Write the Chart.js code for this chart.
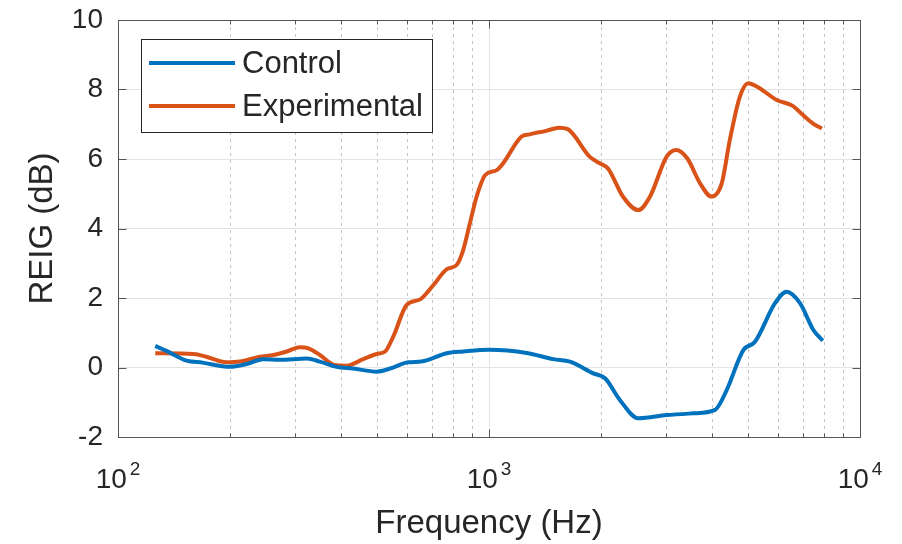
<!DOCTYPE html>
<html>
<head>
<meta charset="utf-8">
<script src="https://cdn.jsdelivr.net/npm/chart.js@4.4.0/dist/chart.umd.min.js"></script>
<style>
  html, body { margin: 0; padding: 0; background: #fff; }
  #wrap { width: 902px; height: 544px; }
</style>
</head>
<body>
<div id="wrap"><canvas id="chart" width="902" height="544"></canvas></div>
<script>
// frecuencias (Hz) y valores (dB)
const controlFreq = [126, 135, 153, 169, 200, 222, 246, 273, 323, 350, 388, 430, 498, 541, 606, 657, 770, 852,
  1000, 1264, 1490, 1654, 1911, 2055, 2255, 2526, 3012, 3554, 4067, 4372, 4847, 5212, 5901, 6343, 6891, 7487, 7934];
const controlVals = [0.62, 0.48, 0.20, 0.14, 0.02, 0.10, 0.24, 0.22, 0.26, 0.17, 0.02, -0.03, -0.12, -0.03, 0.15, 0.17, 0.41, 0.46,
  0.51, 0.42, 0.24, 0.17, -0.17, -0.31, -0.94, -1.46, -1.37, -1.32, -1.22, -0.65, 0.50, 0.74, 1.85, 2.18, 1.85, 1.08, 0.77];

const expFreq = [126, 160, 173, 196, 213, 241, 262, 285, 309, 326, 350, 384, 413, 458, 498, 525, 552, 600, 652, 708, 770, 818,
  852, 886, 925, 977, 1049, 1092, 1222, 1286, 1426, 1547, 1630, 1867, 1985, 2093, 2296, 2526, 2717, 3012, 3197, 3422,
  3707, 3976, 4240, 4458, 4743, 4998, 5281, 5962, 6588, 7008, 7487, 7893];
const expVals = [0.41, 0.39, 0.31, 0.15, 0.17, 0.31, 0.36, 0.46, 0.58, 0.55, 0.36, 0.07, 0.05, 0.24, 0.39, 0.46, 0.89, 1.80, 1.96, 2.37, 2.83, 2.95,
  3.38, 4.10, 4.90, 5.54, 5.68, 5.88, 6.64, 6.71, 6.81, 6.90, 6.86, 6.07, 5.88, 5.73, 4.92, 4.53, 4.92, 6.07, 6.26, 6.02,
  5.30, 4.92, 5.30, 6.55, 7.79, 8.18, 8.08, 7.70, 7.53, 7.27, 7.01, 6.88];

const seriesNames = ['Control', 'Experimental'];
const seriesColors = ['#0072BD', '#D95319'];

const xDecades = [100, 1000, 10000];
const xExponents = ['2', '3', '4'];
const xMinorMult = [2, 3, 4, 5, 6, 7, 8, 9];
const yTicks = [-2, 0, 2, 4, 6, 8, 10];

const FONT = '"Liberation Sans", Arial, Helvetica, sans-serif';
const TXT = '#262626';
const AXC = '#555555';

const toPts = (xs, ys) => xs.map((f, i) => ({ x: f, y: ys[i] }));

// grid, marco, ticks hacia adentro, etiquetas 10^n y leyenda
const axesPlugin = {
  id: 'matlabAxes',
  beforeDatasetsDraw(chart) {
    const { ctx, chartArea: a, scales: { x } } = chart;
    ctx.save();
    ctx.lineWidth = 1;
    // lineas menores punteadas
    ctx.strokeStyle = '#c4c4c4';
    ctx.setLineDash([3, 4]);
    xDecades.slice(0, -1).forEach(d => {
      xMinorMult.forEach(m => {
        const px = Math.round(x.getPixelForValue(d * m)) + 0.5;
        ctx.beginPath(); ctx.moveTo(px, a.top); ctx.lineTo(px, a.bottom); ctx.stroke();
      });
    });
    // decadas
    ctx.setLineDash([]);
    ctx.strokeStyle = '#e3e3e3';
    xDecades.forEach(d => {
      const px = Math.round(x.getPixelForValue(d)) + 0.5;
      ctx.beginPath(); ctx.moveTo(px, a.top); ctx.lineTo(px, a.bottom); ctx.stroke();
    });
    ctx.restore();
  },
  afterDatasetsDraw(chart) {
    const { ctx, chartArea: a, scales: { x, y } } = chart;
    ctx.save();
    ctx.strokeStyle = AXC;
    ctx.lineWidth = 1;
    const L = Math.round(a.left) + 0.5, R = Math.round(a.right) + 0.5;
    const T = Math.round(a.top) + 0.5, B = Math.round(a.bottom) + 0.5;
    ctx.strokeRect(L, T, R - L, B - T);
    ctx.beginPath();
    xDecades.forEach(d => {
      const px = Math.round(x.getPixelForValue(d)) + 0.5;
      ctx.moveTo(px, B); ctx.lineTo(px, B - 8);
      ctx.moveTo(px, T); ctx.lineTo(px, T + 8);
    });
    xDecades.slice(0, -1).forEach(d => {
      xMinorMult.forEach(m => {
        const px = Math.round(x.getPixelForValue(d * m)) + 0.5;
        ctx.moveTo(px, B); ctx.lineTo(px, B - 4);
        ctx.moveTo(px, T); ctx.lineTo(px, T + 4);
      });
    });
    yTicks.forEach(v => {
      const py = Math.round(y.getPixelForValue(v)) + 0.5;
      ctx.moveTo(L, py); ctx.lineTo(L + 8, py);
      ctx.moveTo(R, py); ctx.lineTo(R - 8, py);
    });
    ctx.stroke();

    // etiquetas 10^n
    ctx.fillStyle = TXT;
    ctx.textBaseline = 'alphabetic';
    xDecades.forEach((d, i) => {
      const px = x.getPixelForValue(d);
      ctx.font = '28px ' + FONT;
      const wb = ctx.measureText('10').width;
      ctx.font = '19px ' + FONT;
      const we = ctx.measureText(xExponents[i]).width;
      const x0 = px - (wb + 3 + we) / 2;
      ctx.font = '28px ' + FONT;
      ctx.textAlign = 'left';
      ctx.fillText('10', x0, 488);
      ctx.font = '19px ' + FONT;
      ctx.fillText(xExponents[i], x0 + wb + 3, 475);
    });

    // leyenda
    const bx = 141.5, by = 39.5, bw = 291, bh = 93;
    ctx.fillStyle = '#ffffff';
    ctx.fillRect(bx, by, bw, bh);
    ctx.strokeStyle = TXT;
    ctx.lineWidth = 1;
    ctx.strokeRect(bx, by, bw, bh);
    const rows = [63, 106];
    chart.data.datasets.forEach((ds, i) => {
      ctx.strokeStyle = ds.borderColor;
      ctx.lineWidth = 4;
      ctx.beginPath(); ctx.moveTo(149, rows[i]); ctx.lineTo(235, rows[i]); ctx.stroke();
      ctx.fillStyle = TXT;
      ctx.font = '31px ' + FONT;
      ctx.textAlign = 'left';
      ctx.textBaseline = 'middle';
      ctx.fillText(ds.label, 242, rows[i] + 1);
    });
    ctx.restore();
  }
};

new Chart(document.getElementById('chart'), {
  type: 'line',
  data: {
    datasets: [
      { label: seriesNames[0], data: toPts(controlFreq, controlVals), borderColor: seriesColors[0] },
      { label: seriesNames[1], data: toPts(expFreq, expVals), borderColor: seriesColors[1] }
    ]
  },
  options: {
    responsive: false,
    animation: false,
    devicePixelRatio: 1,
    layout: { padding: { top: 20, right: 42, left: 0, bottom: 0 } },
    elements: {
      line: { borderWidth: 4, tension: 0.4, cubicInterpolationMode: 'monotone', fill: false },
      point: { radius: 0 }
    },
    plugins: { legend: { display: false }, tooltip: { enabled: false } },
    scales: {
      x: {
        type: 'logarithmic',
        min: 100, max: 10000,
        grid: { display: false },
        border: { display: false },
        ticks: { display: false },
        title: {
          display: true, text: 'Frequency (Hz)', color: TXT,
          font: { family: FONT, size: 33 }, padding: { top: 0, bottom: 0 }
        },
        afterFit(scale) { scale.height = 107; scale.paddingLeft = 0; scale.paddingRight = 0; }
      },
      y: {
        min: -2, max: 10,
        grid: { color: '#e3e3e3', drawTicks: false },
        border: { display: false },
        ticks: { stepSize: 2, padding: 15, color: TXT, font: { family: FONT, size: 28 } },
        title: {
          display: true, text: 'REIG (dB)', color: TXT,
          font: { family: FONT, size: 33 }, padding: { top: 23, bottom: 0 }
        },
        afterFit(scale) { scale.width = 118; scale.paddingTop = 0; scale.paddingBottom = 0; }
      }
    }
  },
  plugins: [axesPlugin]
});
</script>
</body>
</html>
